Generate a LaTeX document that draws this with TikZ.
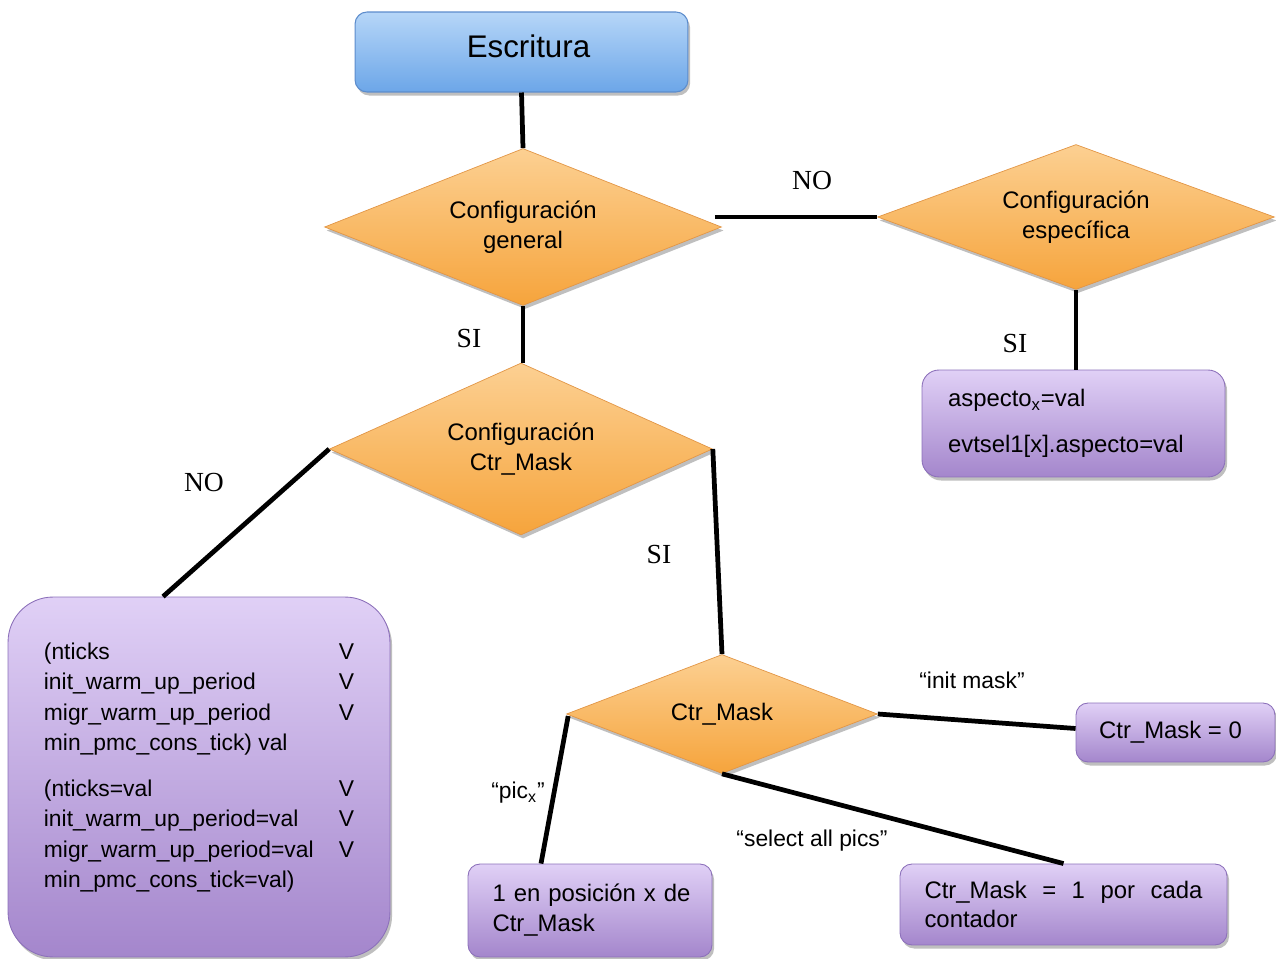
\documentclass[tikz,border=0pt]{standalone}
\usepackage{fontspec}
\setmainfont{Liberation Sans}
\newfontfamily\labelserif{Liberation Serif}
\usetikzlibrary{shapes.geometric,shadows,calc}

\definecolor{escTop}{RGB}{182,214,248}
\definecolor{escBot}{RGB}{108,166,232}
\definecolor{escLine}{RGB}{92,140,204}
\definecolor{decTop}{RGB}{252,208,146}
\definecolor{decBot}{RGB}{246,164,60}
\definecolor{decLine}{RGB}{226,150,70}
\definecolor{actTop}{RGB}{224,208,246}
\definecolor{actBot}{RGB}{164,134,204}
\definecolor{actLine}{RGB}{140,112,186}

\begin{document}
\begin{tikzpicture}[x=0.02cm,y=-0.02cm,
  connector/.style={line width=2.7pt, black},
  shadowed/.style={drop shadow={shadow xshift=1.2pt,shadow yshift=-2pt,opacity=0.25,fill=black}},
  titlebox/.style={rectangle, rounded corners=0.24cm, draw=escLine, line width=0.6pt,
    top color=escTop, bottom color=escBot, shadowed,
    font=\fontsize{17.8pt}{20pt}\selectfont},
  decision/.style={diamond, aspect=2.5, draw=decLine, line width=0.4pt,
    top color=decTop, bottom color=decBot, inner sep=0pt, align=center,
    shadowed, font=\fontsize{13.6pt}{17pt}\selectfont},
  actionbox/.style={rectangle, draw=actLine, line width=0.5pt,
    top color=actTop, bottom color=actBot, shadowed,
    font=\fontsize{13.6pt}{17pt}\selectfont},
  branch/.style={font=\labelserif\fontsize{15.7pt}{18pt}\selectfont},
  choice/.style={font=\fontsize{13pt}{16pt}\selectfont}
]
\useasboundingbox (0,0) rectangle (1276,959);

% start box
\node[titlebox, minimum width=6.66cm, minimum height=1.6cm] (esc) at (521.5,52)
  {\hspace*{0.28cm}\raisebox{0.25cm}{Escritura}};

% decisions
\node[decision, minimum width=7.94cm, minimum height=3.14cm] (d1) at (523,227)
  {Configuración\\general};
\node[decision, minimum width=7.94cm, minimum height=2.9cm] (d2) at (1076,217)
  {Configuración\\específica};
\node[decision, minimum width=7.66cm, minimum height=3.44cm] (d3) at (521,449)
  {Configuración\\Ctr\_Mask};
\node[decision, minimum width=6.22cm, minimum height=2.38cm] (d4) at (722,714)
  {Ctr\_Mask};

% actions
\node[actionbox, rounded corners=0.34cm, minimum width=6.06cm, minimum height=2.14cm,
  text width=5.02cm, inner xsep=0.52cm, align=left,
  font=\fontsize{13.6pt}{26pt}\selectfont] (asp) at (1073.5,423.5)
  {aspecto\textsubscript{x}=val\\evtsel1[x].aspecto=val};

\node[actionbox, rounded corners=0.9cm, minimum width=7.64cm, minimum height=7.2cm,
  font=\fontsize{13pt}{17.3pt}\selectfont] (big) at (199,777) {%
  \begin{tabular}{@{}p{5.9cm}@{}l@{}}
  (nticks & V\\
  init\_warm\_up\_period & V\\
  migr\_warm\_up\_period & V\\
  min\_pmc\_cons\_tick) val & \\[8.8pt]
  (nticks=val & V\\
  init\_warm\_up\_period=val & V\\
  migr\_warm\_up\_period=val & V\\
  min\_pmc\_cons\_tick=val) & \\[11pt]
  \end{tabular}};

\node[actionbox, rounded corners=0.24cm, minimum width=3.98cm, minimum height=1.18cm]
  (zero) at (1175.5,732.5) {Ctr\_Mask = 0\hspace*{0.2cm}};

\node[actionbox, rounded corners=0.24cm, minimum width=4.88cm, minimum height=1.86cm,
  text width=4.1cm, inner xsep=0.39cm, align=left] (pos) at (590,910.5)
  {\hspace*{0.1cm}1 en posición x de\\\hspace*{0.1cm}Ctr\_Mask};

\node[actionbox, rounded corners=0.24cm, minimum width=6.54cm, minimum height=1.62cm,
  text width=5.56cm, inner xsep=0.49cm, align=justify] (all) at (1063.5,904.5)
  {Ctr\_Mask = 1 por cada\linebreak contador};

% connectors
\draw[connector] (esc.south) -- (d1.north);
\draw[connector] ($(d1.east |- d2.west)+(-7,0)$) -- (d2.west);
\draw[connector] (d1.south) -- (d1.south |- d3.north);
\draw[connector] (d2.south) -- (d2.south |- asp.north);
\draw[connector] (d3.west) -- ($(big.north)+(-36,0)$);
\draw[connector] (d3.east) -- (d4.north);
\draw[connector] (d4.east) -- ($(zero.west)+(0,-4)$);
\draw[connector] ($(d4.west)+(2,2)$) -- ($(pos.north)+(-49,0)$);
\draw[connector] (d4.south) -- (all.north);

% branch labels
\node[branch] (no1) at (812,181) {NO};
\node[branch] (si1) at (469,339) {SI};
\node[branch] (si2) at (1015,344) {SI};
\node[branch] (no2) at (204,483) {NO};
\node[branch] (si3) at (659,555) {SI};
\node[choice] (lbinit) at (972,680) {“init mask”};
\node[choice] (lbpic) at (518,793) {“pic\textsubscript{x}”};
\node[choice] (lball) at (812,841) {“select all pics”};
\end{tikzpicture}
\end{document}
